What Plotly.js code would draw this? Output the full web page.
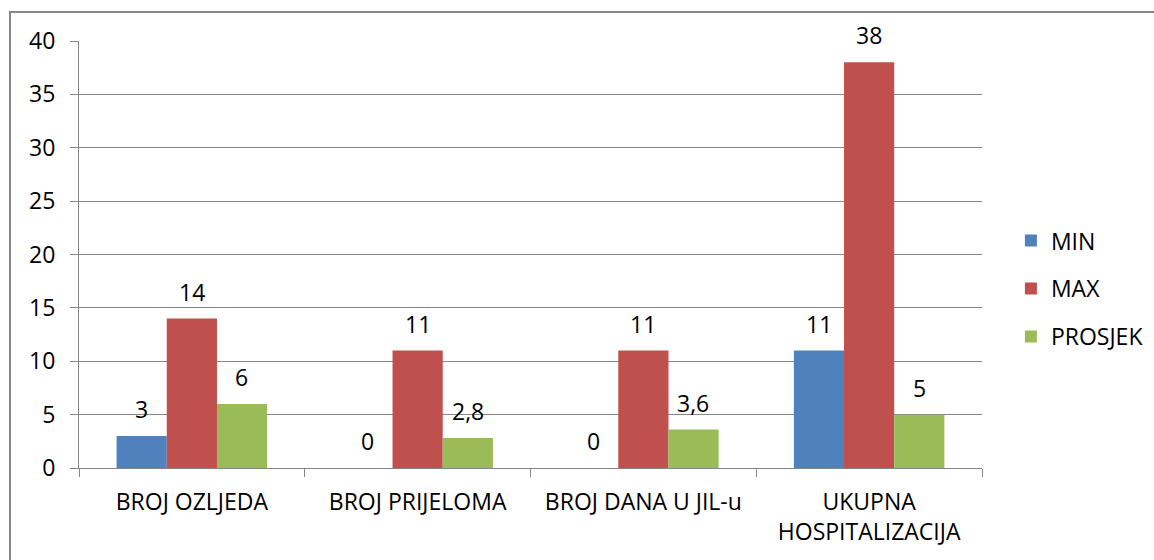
<!DOCTYPE html>
<html>
<head>
<meta charset="utf-8">
<script src="https://cdn.plot.ly/plotly-3.0.1.min.js"></script>
<style>
html,body{margin:0;padding:0;background:#fff;overflow:hidden;}
#chart{width:1154px;height:560px;}
</style>
</head>
<body>
<div id="chart"></div>
<script>
const categories = ["BROJ OZLJEDA", "BROJ PRIJELOMA", "BROJ DANA U JIL-u", "UKUPNA<br>HOSPITALIZACIJA"];
const seriesNames = ["MIN", "MAX", "PROSJEK"];
const minValues = [3, 0, 0, 11];
const maxValues = [14, 11, 11, 38];
const prosjekValues = [6, 2.8, 3.6, 5];
const yTicks = [0, 5, 10, 15, 20, 25, 30, 35, 40];

const colors = ["#4F81BD", "#C0504D", "#9BBB59"];
const allValues = [minValues, maxValues, prosjekValues];
const FONT = "Open Sans, sans-serif";
const FS = 23;

const traces = allValues.map((vals, i) => ({
  type: "bar",
  name: seriesNames[i],
  x: categories,
  y: vals,
  marker: {color: colors[i], line: {width: 0}},
  legendgroup: "g" + i,
  hoverinfo: "x+y+name"
}));

const fmt = v => String(v).replace(".", ",");
const shifts = [-50, 0, 50];
const annotations = [];
allValues.forEach((vals, i) => {
  vals.forEach((v, j) => {
    annotations.push({
      x: categories[j], y: v, xref: "x", yref: "y",
      text: fmt(v), showarrow: false,
      xshift: shifts[i], yshift: 27, yanchor: "middle",
      font: {family: FONT, size: FS, color: "#000"}
    });
  });
});

const layout = {
  width: 1154, height: 560,
  margin: {l: 79, r: 172, t: 41, b: 92, autoexpand: false},
  paper_bgcolor: "#fff", plot_bgcolor: "#fff",
  barmode: "group", bargap: 0.333, bargroupgap: 0,
  separators: ",.",
  font: {family: FONT, size: FS, color: "#000"},
  showlegend: true,
  legend: {
    x: 1.032, xanchor: "left", y: 0.42, yanchor: "middle",
    font: {family: FONT, size: FS, color: "#000"},
    tracegroupgap: 15, traceorder: "grouped",
    bgcolor: "rgba(0,0,0,0)"
  },
  xaxis: {
    type: "category",
    showline: true, linecolor: "#868686", linewidth: 1,
    ticks: "outside", tickson: "boundaries", ticklen: 8, tickcolor: "#868686", tickwidth: 1,
    showgrid: false, zeroline: false,
    ticklabelstandoff: 13,
    tickfont: {family: FONT, size: FS, color: "#000"},
    fixedrange: true
  },
  yaxis: {
    range: [0, 40],
    tickvals: yTicks, ticktext: yTicks.map(String),
    showline: true, linecolor: "#868686", linewidth: 1,
    ticks: "outside", ticklen: 8, tickcolor: "#868686", tickwidth: 1,
    showgrid: true, gridcolor: "#868686", gridwidth: 1,
    zeroline: false,
    ticklabelstandoff: 10,
    tickfont: {family: FONT, size: FS, color: "#000"},
    fixedrange: true
  },
  annotations: annotations,
  shapes: [{
    type: "rect", xref: "paper", yref: "paper",
    x0: (10 - 79) / 903, x1: 2, y0: -1, y1: (468 - 12) / 427,
    line: {color: "#878787", width: 2}, fillcolor: "rgba(0,0,0,0)", layer: "below"
  }]
};

Plotly.newPlot("chart", traces, layout, {staticPlot: true, displayModeBar: false});
</script>
</body>
</html>
